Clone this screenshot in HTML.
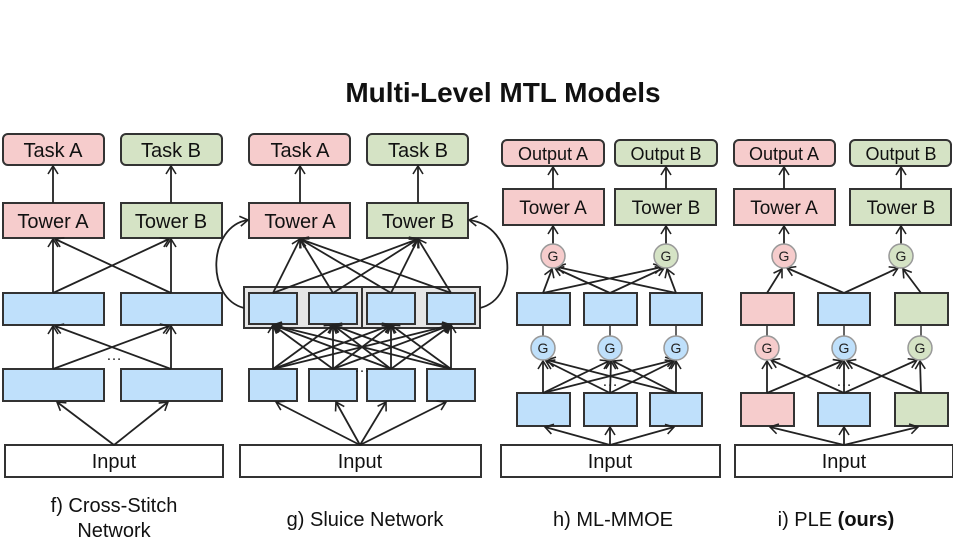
<!DOCTYPE html>
<html><head><meta charset="utf-8"><style>
html,body{margin:0;padding:0;background:#fff;}
svg{display:block;font-family:"Liberation Sans",sans-serif;}
</style></head><body>
<svg width="953" height="537" viewBox="0 0 953 537" xmlns="http://www.w3.org/2000/svg">
<defs>
<marker id="a" markerWidth="12" markerHeight="12" refX="10" refY="6" orient="auto" markerUnits="userSpaceOnUse">
<path d="M2,1 L10,6 L2,11" fill="none" stroke="#222" stroke-width="1.6"/>
</marker>
</defs>
<text x="503" y="102" text-anchor="middle" font-size="28" font-weight="bold" fill="#111">Multi-Level MTL Models</text>
<g stroke="#333" stroke-width="2">
<!-- panel f -->
<rect x="3" y="134" width="101" height="31" rx="5" fill="#f6cccc"/>
<rect x="121" y="134" width="101" height="31" rx="5" fill="#d5e3c5"/>
<rect x="3" y="203" width="101" height="35" fill="#f6cccc"/>
<rect x="121" y="203" width="101" height="35" fill="#d5e3c5"/>
<rect x="3" y="293" width="101" height="32" fill="#bfe0fb"/>
<rect x="121" y="293" width="101" height="32" fill="#bfe0fb"/>
<rect x="3" y="369" width="101" height="32" fill="#bfe0fb"/>
<rect x="121" y="369" width="101" height="32" fill="#bfe0fb"/>
<rect x="5" y="445" width="218" height="32" fill="#fff"/>
<!-- panel g -->
<rect x="244" y="287" width="236" height="41" fill="#e6e6e6"/>
<line x1="362" y1="287" x2="362" y2="328"/>
<rect x="249" y="134" width="101" height="31" rx="5" fill="#f6cccc"/>
<rect x="367" y="134" width="101" height="31" rx="5" fill="#d5e3c5"/>
<rect x="249" y="203" width="101" height="35" fill="#f6cccc"/>
<rect x="367" y="203" width="101" height="35" fill="#d5e3c5"/>
<rect x="249" y="293" width="48" height="31" fill="#bfe0fb"/>
<rect x="309" y="293" width="48" height="31" fill="#bfe0fb"/>
<rect x="367" y="293" width="48" height="31" fill="#bfe0fb"/>
<rect x="427" y="293" width="48" height="31" fill="#bfe0fb"/>
<rect x="249" y="369" width="48" height="32" fill="#bfe0fb"/>
<rect x="309" y="369" width="48" height="32" fill="#bfe0fb"/>
<rect x="367" y="369" width="48" height="32" fill="#bfe0fb"/>
<rect x="427" y="369" width="48" height="32" fill="#bfe0fb"/>
<rect x="240" y="445" width="241" height="32" fill="#fff"/>
<!-- panel h -->
<rect x="502" y="140" width="102" height="26" rx="5" fill="#f6cccc"/>
<rect x="615" y="140" width="102" height="26" rx="5" fill="#d5e3c5"/>
<rect x="503" y="189" width="101" height="36" fill="#f6cccc"/>
<rect x="615" y="189" width="101" height="36" fill="#d5e3c5"/>
<rect x="517" y="293" width="53" height="32" fill="#bfe0fb"/>
<rect x="584" y="293" width="53" height="32" fill="#bfe0fb"/>
<rect x="650" y="293" width="52" height="32" fill="#bfe0fb"/>
<rect x="517" y="393" width="53" height="33" fill="#bfe0fb"/>
<rect x="584" y="393" width="53" height="33" fill="#bfe0fb"/>
<rect x="650" y="393" width="52" height="33" fill="#bfe0fb"/>
<rect x="501" y="445" width="219" height="32" fill="#fff"/>
<!-- panel i -->
<rect x="734" y="140" width="101" height="26" rx="5" fill="#f6cccc"/>
<rect x="850" y="140" width="101" height="26" rx="5" fill="#d5e3c5"/>
<rect x="734" y="189" width="101" height="36" fill="#f6cccc"/>
<rect x="850" y="189" width="101" height="36" fill="#d5e3c5"/>
<rect x="741" y="293" width="53" height="32" fill="#f6cccc"/>
<rect x="818" y="293" width="52" height="32" fill="#bfe0fb"/>
<rect x="895" y="293" width="53" height="32" fill="#d5e3c5"/>
<rect x="741" y="393" width="53" height="33" fill="#f6cccc"/>
<rect x="818" y="393" width="52" height="33" fill="#bfe0fb"/>
<rect x="895" y="393" width="53" height="33" fill="#d5e3c5"/>
<rect x="735" y="445" width="218" height="32" fill="#fff"/>
</g>
<g stroke="#222" stroke-width="1.8" fill="none" marker-end="url(#a)">
<!-- f -->
<line x1="53" y1="203" x2="53" y2="166"/><line x1="171" y1="203" x2="171" y2="166"/>
<line x1="53" y1="293" x2="53" y2="239"/><line x1="53" y1="293" x2="169" y2="239"/>
<line x1="171" y1="293" x2="171" y2="239"/><line x1="171" y1="293" x2="55" y2="239"/>
<line x1="53" y1="369" x2="53" y2="326"/><line x1="53" y1="369" x2="169" y2="326"/>
<line x1="171" y1="369" x2="171" y2="326"/><line x1="171" y1="369" x2="55" y2="326"/>
<line x1="114" y1="445" x2="57" y2="402"/><line x1="114" y1="445" x2="168" y2="402"/>
<!-- g -->
<line x1="300" y1="203" x2="300" y2="166"/><line x1="418" y1="203" x2="418" y2="166"/>
<line x1="273" y1="293" x2="300" y2="239"/><line x1="333" y1="293" x2="300" y2="239"/><line x1="391" y1="293" x2="300" y2="239"/><line x1="451" y1="293" x2="300" y2="239"/>
<line x1="273" y1="293" x2="418" y2="239"/><line x1="333" y1="293" x2="418" y2="239"/><line x1="391" y1="293" x2="418" y2="239"/><line x1="451" y1="293" x2="418" y2="239"/>
<line x1="273" y1="369" x2="273" y2="325"/><line x1="273" y1="369" x2="333" y2="325"/><line x1="273" y1="369" x2="391" y2="325"/><line x1="273" y1="369" x2="451" y2="325"/>
<line x1="333" y1="369" x2="273" y2="325"/><line x1="333" y1="369" x2="333" y2="325"/><line x1="333" y1="369" x2="391" y2="325"/><line x1="333" y1="369" x2="451" y2="325"/>
<line x1="391" y1="369" x2="273" y2="325"/><line x1="391" y1="369" x2="333" y2="325"/><line x1="391" y1="369" x2="391" y2="325"/><line x1="391" y1="369" x2="451" y2="325"/>
<line x1="451" y1="369" x2="273" y2="325"/><line x1="451" y1="369" x2="333" y2="325"/><line x1="451" y1="369" x2="391" y2="325"/><line x1="451" y1="369" x2="451" y2="325"/>
<line x1="360" y1="445" x2="276" y2="402"/><line x1="360" y1="445" x2="336" y2="402"/><line x1="360" y1="445" x2="386" y2="402"/><line x1="360" y1="445" x2="446" y2="402"/>
<path d="M244,308 C205,298 208,226 248,220"/>
<path d="M480,308 C520,298 516,226 469,220"/>
<!-- h -->
<line x1="553" y1="189" x2="553" y2="167"/><line x1="666" y1="189" x2="666" y2="167"/>
<line x1="553" y1="244" x2="553" y2="226"/><line x1="666" y1="244" x2="666" y2="226"/>
<line x1="543" y1="293" x2="552" y2="269"/><line x1="610" y1="293" x2="555" y2="268"/><line x1="676" y1="293" x2="557" y2="267"/>
<line x1="543" y1="293" x2="662" y2="267"/><line x1="610" y1="293" x2="664" y2="268"/><line x1="676" y1="293" x2="667" y2="269"/>
<line x1="543" y1="393" x2="543" y2="361"/><line x1="543" y1="393" x2="609" y2="361"/><line x1="543" y1="393" x2="674" y2="360"/>
<line x1="610" y1="393" x2="546" y2="361"/><line x1="610" y1="393" x2="611" y2="361"/><line x1="610" y1="393" x2="674" y2="361"/>
<line x1="676" y1="393" x2="547" y2="360"/><line x1="676" y1="393" x2="613" y2="361"/><line x1="676" y1="393" x2="676" y2="361"/>
<line x1="610" y1="445" x2="545" y2="427"/><line x1="610" y1="445" x2="610" y2="427"/><line x1="610" y1="445" x2="674" y2="427"/>
<!-- i -->
<line x1="784" y1="189" x2="784" y2="167"/><line x1="901" y1="189" x2="901" y2="167"/>
<line x1="784" y1="244" x2="784" y2="226"/><line x1="901" y1="244" x2="901" y2="226"/>
<line x1="767" y1="293" x2="782" y2="269"/><line x1="844" y1="293" x2="787" y2="268"/>
<line x1="844" y1="293" x2="898" y2="268"/><line x1="921" y1="293" x2="903" y2="269"/>
<line x1="767" y1="393" x2="767" y2="361"/><line x1="844" y1="393" x2="771" y2="360"/>
<line x1="767" y1="393" x2="842" y2="361"/><line x1="844" y1="393" x2="844" y2="361"/><line x1="921" y1="393" x2="847" y2="361"/>
<line x1="844" y1="393" x2="917" y2="360"/><line x1="921" y1="393" x2="920" y2="361"/>
<line x1="844" y1="445" x2="770" y2="427"/><line x1="844" y1="445" x2="844" y2="427"/><line x1="844" y1="445" x2="918" y2="427"/>
</g>
<g stroke="#333" stroke-width="1.5">
<line x1="543" y1="325" x2="543" y2="336"/><line x1="610" y1="325" x2="610" y2="336"/><line x1="676" y1="325" x2="676" y2="336"/>
<line x1="767" y1="325" x2="767" y2="336"/><line x1="844" y1="325" x2="844" y2="336"/><line x1="921" y1="325" x2="921" y2="336"/>
</g>
<g stroke="#999" stroke-width="1.5">
<circle cx="553" cy="256" r="12" fill="#f6cccc"/><circle cx="666" cy="256" r="12" fill="#d5e3c5"/>
<circle cx="543" cy="348" r="12" fill="#bfe0fb"/><circle cx="610" cy="348" r="12" fill="#bfe0fb"/><circle cx="676" cy="348" r="12" fill="#bfe0fb"/>
<circle cx="784" cy="256" r="12" fill="#f6cccc"/><circle cx="901" cy="256" r="12" fill="#d5e3c5"/>
<circle cx="767" cy="348" r="12" fill="#f6cccc"/><circle cx="844" cy="348" r="12" fill="#bfe0fb"/><circle cx="920" cy="348" r="12" fill="#d5e3c5"/>
</g>
<g font-size="14" text-anchor="middle" fill="#222">
<text x="553" y="261">G</text><text x="666" y="261">G</text>
<text x="543" y="353">G</text><text x="610" y="353">G</text><text x="676" y="353">G</text>
<text x="784" y="261">G</text><text x="901" y="261">G</text>
<text x="767" y="353">G</text><text x="844" y="353">G</text><text x="920" y="353">G</text>
</g>
<g font-size="20" text-anchor="middle" fill="#111">
<text x="53" y="157">Task A</text><text x="171" y="157">Task B</text>
<text x="53" y="228">Tower A</text><text x="171" y="228">Tower B</text>
<text x="300" y="157">Task A</text><text x="418" y="157">Task B</text>
<text x="300" y="228">Tower A</text><text x="418" y="228">Tower B</text>
<text x="553" y="214" font-size="19">Tower A</text><text x="666" y="214" font-size="19">Tower B</text>
<text x="784" y="214" font-size="19">Tower A</text><text x="901" y="214" font-size="19">Tower B</text>
<text x="553" y="160" font-size="18">Output A</text><text x="666" y="160" font-size="18">Output B</text>
<text x="784" y="160" font-size="18">Output A</text><text x="901" y="160" font-size="18">Output B</text>
<text x="114" y="468">Input</text><text x="360" y="468">Input</text>
<text x="610" y="468">Input</text><text x="844" y="468">Input</text>
<text x="114" y="512">f) Cross-Stitch</text><text x="114" y="537">Network</text>
<text x="365" y="526">g) Sluice Network</text>
<text x="613" y="526">h) ML-MMOE</text>
<text x="836" y="526">i) PLE <tspan font-weight="bold">(ours)</tspan></text>
</g>
<g font-size="16" text-anchor="middle" fill="#222">
<text x="114" y="360">…</text><text x="362" y="372">…</text>
<text x="610" y="386">…</text><text x="844" y="386">…</text>
</g>
</svg>
</body></html>
